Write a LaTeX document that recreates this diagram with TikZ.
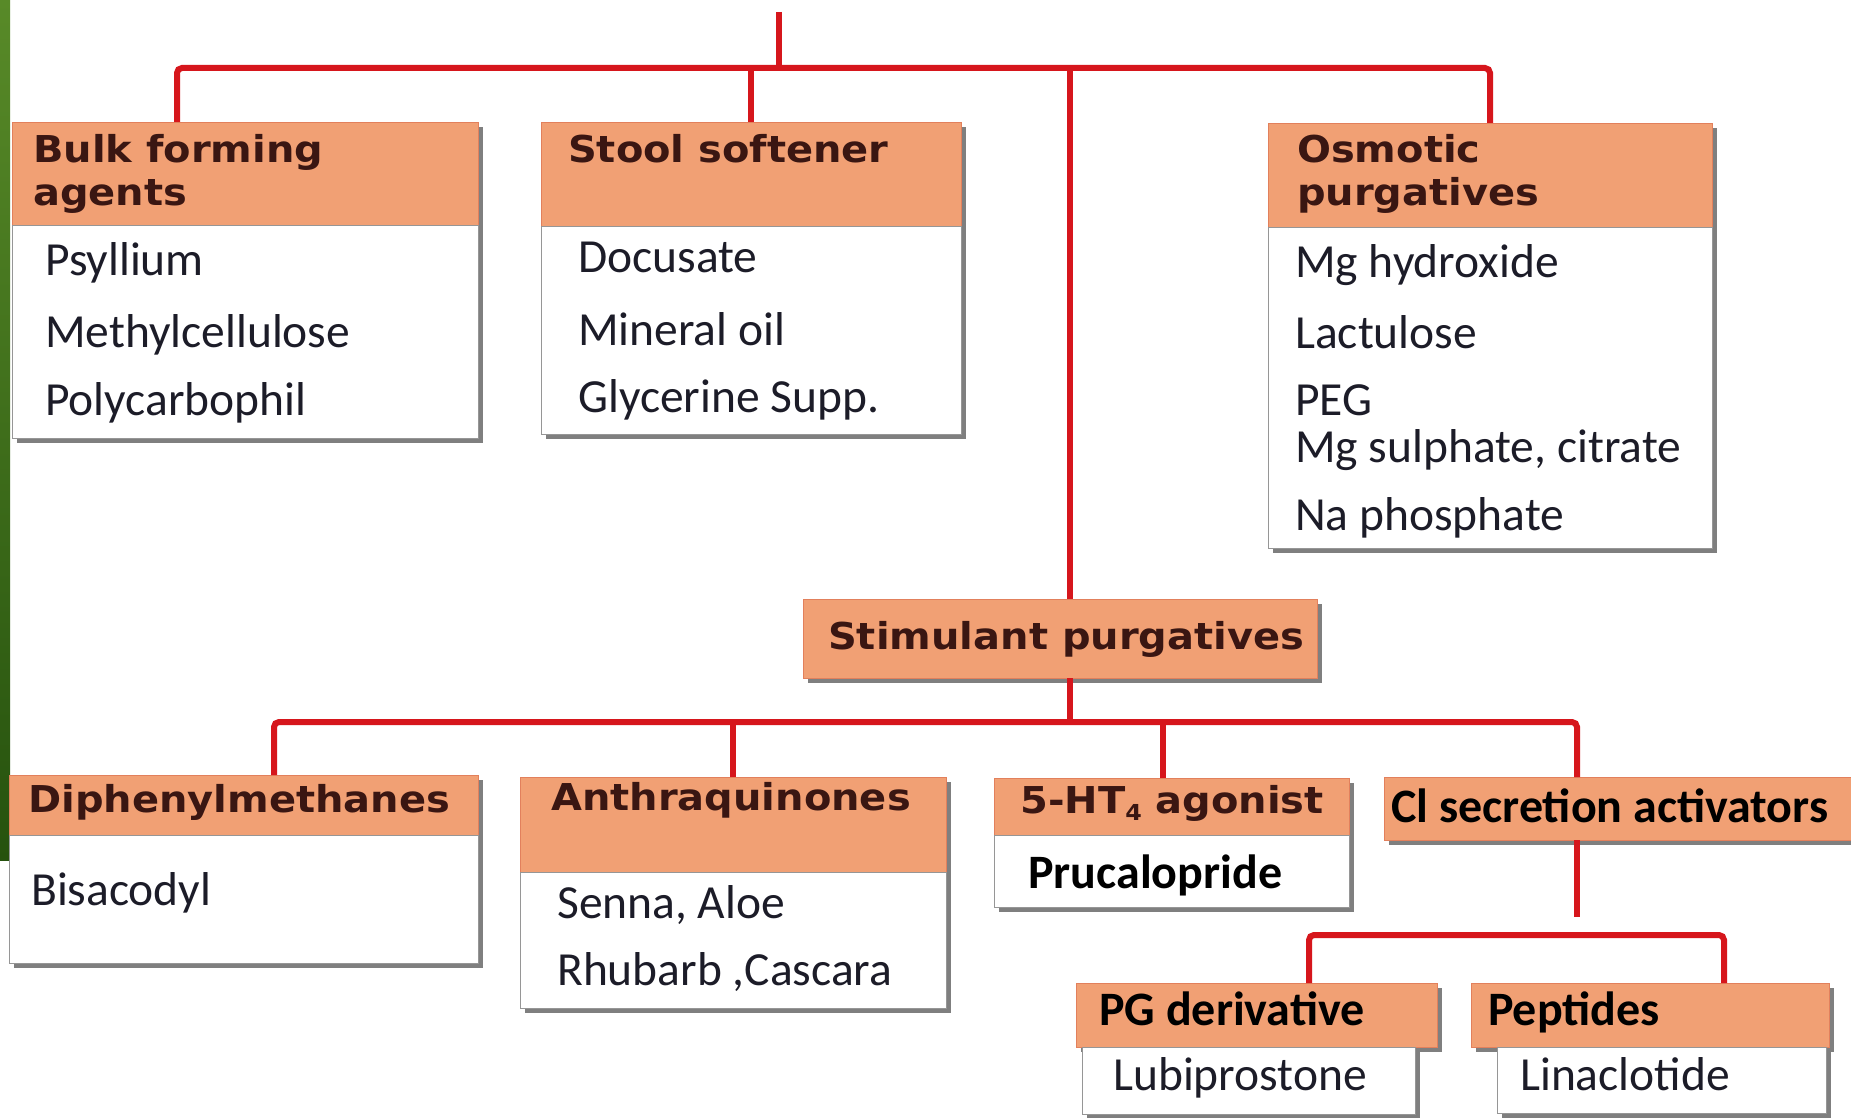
\documentclass[tikz,border=0pt]{standalone}
\usepackage{fontspec}
\setmainfont{Carlito}
\newfontfamily\hdfont[FakeStretch=1.08]{DejaVu Sans}
\usetikzlibrary{positioning,shadows}
\definecolor{linered}{RGB}{214,22,28}
\definecolor{hdrfill}{RGB}{241,160,116}
\definecolor{hdrline}{RGB}{226,128,92}
\definecolor{boxline}{RGB}{150,150,150}
\definecolor{hdrtext}{RGB}{58,22,18}
\definecolor{itemtext}{RGB}{28,28,40}
\definecolor{stripdark}{RGB}{38,82,14}
\definecolor{striplight}{RGB}{88,138,40}
\tikzset{
  hdr/.style={draw=hdrline, fill=hdrfill, line width=0.8pt, inner sep=0pt, outer sep=0pt,
    anchor=north west, drop shadow={shadow xshift=5pt, shadow yshift=-5pt, fill=black, opacity=.5}},
  bdy/.style={hdr, draw=boxline, fill=white},
  redline/.style={draw=linered, line width=6pt, rounded corners=5pt},
  htxt/.style={anchor=base west, inner sep=0pt, text=hdrtext, font=\hdfont\bfseries\fontsize{37}{40}\selectfont},
  itm/.style={anchor=base west, inner sep=0pt, text=itemtext, font=\fontsize{47.5}{50}\selectfont},
  itmb/.style={itm, text=black, font=\bfseries\fontsize{48}{50}\selectfont}
}

\begin{document}
\begin{tikzpicture}[x=1pt,y=-1pt]
\fill[white] (0,0) rectangle (1851,1118);
\useasboundingbox (0,0) rectangle (1851,1118);
% green edge of the slide
\shade[top color=striplight, bottom color=stripdark] (0,0) rectangle (10,860);

% first level
\node[hdr, minimum width=466pt, minimum height=103pt] (bulk) at (12,122) {};
\node[bdy, below=0pt of bulk, minimum width=466pt, minimum height=213pt] (bulkb) {};
\node[hdr, minimum width=420pt, minimum height=104pt] (stool) at (541,122) {};
\node[bdy, below=0pt of stool, minimum width=420pt, minimum height=208pt] (stoolb) {};
\node[hdr, minimum width=444pt, minimum height=104pt] (osm) at (1268,123) {};
\node[bdy, below=0pt of osm, minimum width=444pt, minimum height=321pt] (osmb) {};
\node[hdr, minimum width=514pt, minimum height=79pt] (stim) at (803,599) {};

\node[htxt] (bulkt1) at (33,163) {Bulk forming};
\node[htxt] (bulkt2) at (33,205) {agents};
\node[htxt] (stoolt) at (568,163) {Stool softener};
\node[htxt] (osmt1) at (1297,163) {Osmotic};
\node[htxt] (osmt2) at (1297,205) {purgatives};
\node[htxt] (stimt) at (828,649) {Stimulant purgatives};

\foreach \t/\y [count=\i] in {Psyllium/275, Methylcellulose/347, Polycarbophil/415}
  \node[itm] (bulk\i) at (45,\y) {\t};
\foreach \t/\y [count=\i] in {Docusate/272, Mineral oil/345, Glycerine Supp./412}
  \node[itm] (stool\i) at (578,\y) {\t};
\foreach \t/\y [count=\i] in {Mg hydroxide/277, Lactulose/348, PEG/415, {Mg sulphate, citrate}/462, Na phosphate/530}
  \node[itm] (osm\i) at (1295,\y) {\t};

% second level
\node[hdr, minimum width=469pt, minimum height=60pt] (diph) at (9,775) {};
\node[bdy, below=0pt of diph, minimum width=469pt, minimum height=128pt] (diphb) {};
\node[hdr, minimum width=426pt, minimum height=95pt] (anth) at (520,777) {};
\node[bdy, below=0pt of anth, minimum width=426pt, minimum height=136pt] (anthb) {};
\node[hdr, minimum width=355pt, minimum height=57pt] (ht) at (994,778) {};
\node[bdy, below=0pt of ht, minimum width=355pt, minimum height=72pt] (htb) {};
\node[hdr, minimum width=467pt, minimum height=63pt] (ci) at (1384,777) {};

\node[htxt] (dipht) at (28,812) {Diphenylmethanes};
\node[htxt] (antht) at (551,810) {Anthraquinones};
\node[htxt] (htt) at (1020,813) {5-HT\raisebox{-7pt}{\fontsize{22}{22}\selectfont 4} agonist};
\node[itmb] (cit) at (1391,822) {Cl secretion activators};

\node[itm] (diph1) at (31,905) {Bisacodyl};
\foreach \t/\y [count=\i] in {{Senna, Aloe}/918, {Rhubarb ,Cascara}/985}
  \node[itm] (anth\i) at (557,\y) {\t};
\node[itmb] (ht1) at (1028,888) {Prucalopride};

% third level
\node[hdr, minimum width=361pt, minimum height=64pt] (pg) at (1076,983) {};
\node[bdy, minimum width=333pt, minimum height=67pt] (pgb) at (1082,1047) {};
\node[hdr, minimum width=358pt, minimum height=64pt] (pep) at (1471,983) {};
\node[bdy, minimum width=329pt, minimum height=66pt] (pepb) at (1497,1047) {};

\node[itmb] (pgt) at (1099,1025) {PG derivative};
\node[itmb] (pept) at (1488,1025) {Peptides};
\node[itm] (pg1) at (1113,1090) {Lubiprostone};
\node[itm] (pep1) at (1520,1090) {Linaclotide};

% connectors
\coordinate (top) at (779,12);
\coordinate (hub) at (779,68);
\coordinate (sx) at (1070,0);
\coordinate (hub2) at (1070,722);
\coordinate (bulkdrop) at ([xshift=165pt]bulk.north west);
\coordinate (diphdrop) at ([xshift=265pt]diph.north west);
\coordinate (htdrop) at ([xshift=169pt]ht.north west);
\coordinate (cidrop) at ([xshift=193pt]ci.south west);
\coordinate (cistop) at (1577,917);
\coordinate (hub3) at (1577,935);
\coordinate (pgdrop) at ([xshift=233pt]pg.north west);
\coordinate (pepdrop) at ([xshift=253pt]pep.north west);

\draw[redline] (top) -- (hub);
\draw[redline] (bulkdrop) |- (hub) -| (osm.north);
\draw[redline] (stool.north) -- (stool.north |- hub);
\draw[redline] (hub -| sx) -- (stim.north -| sx);
\draw[redline] (stim.south -| sx) -- (hub2);
\draw[redline] (diphdrop) |- (hub2) -| (cidrop |- ci.north);
\draw[redline] (anth.north) -- (anth.north |- hub2);
\draw[redline] (htdrop) -- (htdrop |- hub2);
\draw[redline] (cidrop) -- (cistop);
\draw[redline] (pgdrop) |- (hub3) -| (pepdrop);
\end{tikzpicture}
\end{document}
